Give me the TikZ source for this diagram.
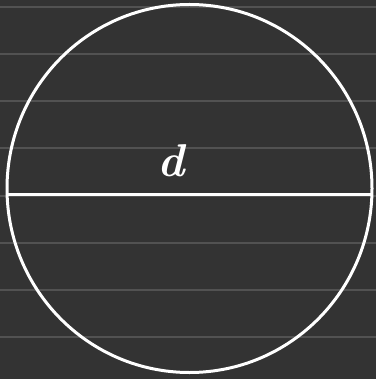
\documentclass[tikz,border=0pt]{standalone}
\begin{document}
\begin{tikzpicture}[x=1pt,y=-1pt,
  rule/.style={draw=ruleclr, line width=1.1pt},
  chalk/.style={draw=white, line width=3pt},
  lbl/.style={text=white, inner sep=0pt, font=\fontsize{46}{46}\selectfont\bfseries\itshape}]
\definecolor{bgclr}{HTML}{333333}
\definecolor{ruleclr}{HTML}{525252}
\fill[bgclr] (0,0) rectangle (376,379);
\useasboundingbox (0,0) rectangle (376,379);
\foreach \yy in {7,54,101,148,196,243,290,337}
  \draw[rule] (0,\yy) -- (376,\yy);
\draw[chalk] (189.5,188.5) ellipse [x radius=182.5, y radius=184];
\coordinate (L) at (8,194.5);
\coordinate (R) at (373,194.5);
\draw[chalk] (L) -- (R);
\node[lbl] (d) at (171,161) {d};
\end{tikzpicture}
\end{document}
